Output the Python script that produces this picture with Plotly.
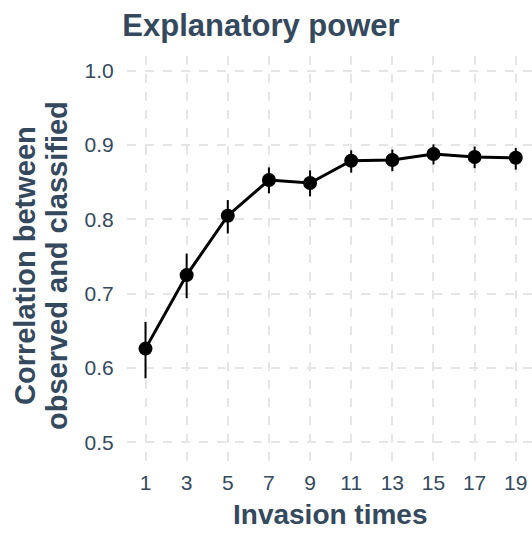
import plotly.graph_objects as go

invasion_times = [1, 3, 5, 7, 9, 11, 13, 15, 17, 19]
correlation_mean = [0.626, 0.725, 0.805, 0.853, 0.849, 0.879, 0.880, 0.888, 0.884, 0.883]
correlation_upper = [0.662, 0.754, 0.826, 0.870, 0.866, 0.893, 0.894, 0.901, 0.898, 0.896]
correlation_lower = [0.586, 0.694, 0.781, 0.835, 0.831, 0.863, 0.865, 0.874, 0.869, 0.867]
y_ticks = [0.5, 0.6, 0.7, 0.8, 0.9, 1.0]

TXT = "#34495e"
FONT = "Liberation Sans, Arial, sans-serif"

err_plus = [u - m for u, m in zip(correlation_upper, correlation_mean)]
err_minus = [m - l for m, l in zip(correlation_mean, correlation_lower)]

fig = go.Figure()
fig.add_trace(go.Scatter(
    x=invasion_times, y=correlation_mean, mode="lines+markers",
    line=dict(color="black", width=3),
    marker=dict(color="black", size=14),
    error_y=dict(type="data", symmetric=False, array=err_plus, arrayminus=err_minus,
                 color="black", thickness=2, width=0),
    showlegend=False,
))

W, H = 532, 534
L, R, T, B = 127, 0, 56, 71
pw, ph = W - L - R, H - T - B

fig.update_layout(
    width=W, height=H,
    margin=dict(l=L, r=R, t=T, b=B, pad=0),
    paper_bgcolor="white", plot_bgcolor="white",
    font=dict(family=FONT, color=TXT, size=21),
    title=dict(text="<b>Explanatory power</b>", xref="container", yref="container",
               x=261 / W, xanchor="center", y=1 - 25 / H, yanchor="middle",
               font=dict(size=31, color=TXT, family=FONT)),
    xaxis=dict(range=[0.1, 19.79], tickvals=invasion_times,
               showgrid=True, gridcolor="#e5e5e5", gridwidth=1.5, griddash="dash",
               zeroline=False, showline=False, ticks="outside", ticklen=1,
               tickcolor="rgba(0,0,0,0)", tickfont=dict(size=21, color=TXT)),
    yaxis=dict(range=[0.472, 1.02], tickvals=y_ticks, tickformat=".1f",
               showgrid=True, gridcolor="#e5e5e5", gridwidth=1.5, griddash="dash",
               zeroline=False, showline=False, ticks="outside", ticklen=8,
               tickcolor="rgba(0,0,0,0)", tickfont=dict(size=21, color=TXT)),
)

fig.add_annotation(text="<b>Invasion times</b>", xref="paper", yref="paper",
                   x=(330 - L) / pw, y=(H - B - 514) / ph, xanchor="center", yanchor="middle",
                   showarrow=False, font=dict(size=28, color=TXT, family=FONT))
fig.add_annotation(text="<b>Correlation between</b>", xref="paper", yref="paper",
                   x=(25 - L) / pw, y=(H - B - 266) / ph, xanchor="center", yanchor="middle",
                   textangle=-90, showarrow=False, font=dict(size=29, color=TXT, family=FONT))
fig.add_annotation(text="<b>observed and classified</b>", xref="paper", yref="paper",
                   x=(57 - L) / pw, y=(H - B - 266) / ph, xanchor="center", yanchor="middle",
                   textangle=-90, showarrow=False, font=dict(size=29, color=TXT, family=FONT))

fig.write_html("out.html")
